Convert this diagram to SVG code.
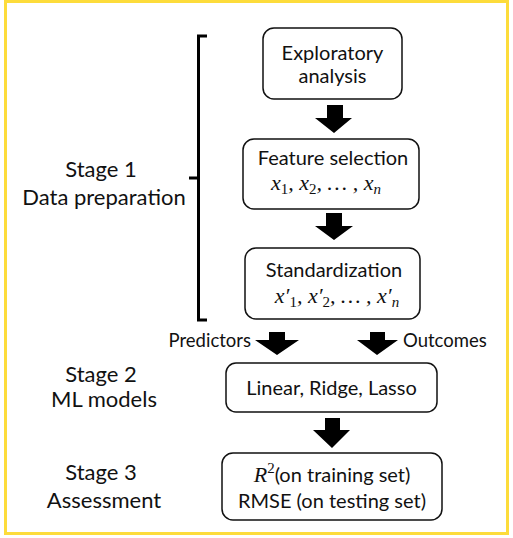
<svg xmlns="http://www.w3.org/2000/svg" width="513" height="538" viewBox="0 0 513 538">
<style>
.t{font-family:Lato,"Open Sans","Liberation Sans",sans-serif;font-size:20px;fill:#111;}
.L{font-size:22px;}
.p{font-size:18.5px;}
.m{font-family:"Liberation Serif","DejaVu Serif",serif;font-style:italic;font-size:22px;fill:#111;}
.s{font-size:15px;font-style:normal;}
.box{fill:#fff;stroke:#111;stroke-width:1.5;}
.arr{fill:#000;}
.br{fill:none;stroke:#000;stroke-width:3;}
</style>
<rect x="0" y="0" width="513" height="538" fill="#fff"/>
<rect x="5.5" y="1.5" width="502" height="532" fill="none" stroke="#FDDC3B" stroke-width="3"/>

<g id="labels">
<text class="t L" x="101" y="177" text-anchor="middle">Stage 1</text>
<text class="t L" x="104" y="205" text-anchor="middle">Data preparation</text>
<text class="t L" x="101" y="382" text-anchor="middle">Stage 2</text>
<text class="t L" x="104" y="407" text-anchor="middle">ML models</text>
<text class="t L" x="101" y="480" text-anchor="middle">Stage 3</text>
<text class="t L" x="104" y="508" text-anchor="middle">Assessment</text>
</g>

<g id="bracket">
<path class="br" d="M207,36 H198.5 V320 H207 M198.5,178 H189"/>
</g>

<g id="node-exploratory">
<rect class="box" x="263" y="28" width="139" height="71" rx="11"/>
<text class="t" x="332.5" y="60" text-anchor="middle">Exploratory</text>
<text class="t" x="332.5" y="83" text-anchor="middle">analysis</text>
</g>

<g id="node-feature">
<rect class="box" x="243" y="139" width="176" height="70" rx="11"/>
<text class="t" x="333" y="165" text-anchor="middle">Feature selection</text>
<text class="m" x="326" y="190" text-anchor="middle">x<tspan class="s" dy="4">1</tspan><tspan dy="-4">, x</tspan><tspan class="s" dy="4">2</tspan><tspan dy="-4">, … , x</tspan><tspan class="s" style="font-style:italic" dy="4">n</tspan></text>
</g>

<g id="node-standard">
<rect class="box" x="245" y="248" width="175" height="71" rx="11"/>
<text class="t" x="334" y="277" text-anchor="middle">Standardization</text>
<text class="m" x="337" y="303" text-anchor="middle">x′<tspan class="s" dy="4">1</tspan><tspan dy="-4">, x′</tspan><tspan class="s" dy="4">2</tspan><tspan dy="-4">, … , x′</tspan><tspan class="s" style="font-style:italic" dy="4">n</tspan></text>
</g>

<g id="node-models">
<rect class="box" x="226" y="363" width="211" height="49" rx="10"/>
<text class="t" x="331.5" y="395" text-anchor="middle">Linear, Ridge, Lasso</text>
</g>

<g id="node-assessment">
<rect class="box" x="222" y="453" width="220" height="67" rx="11"/>
<text x="332" y="482" text-anchor="middle"><tspan class="m">R</tspan><tspan class="m s" dy="-9">2</tspan><tspan class="t" dy="9">(on training set)</tspan></text>
<text class="t" x="332" y="508" text-anchor="middle">RMSE (on testing set)</text>
</g>

<g id="connectors">
<path class="arr" d="M327,105 H343 V118 H352 L334,133 L315,118 H327 Z"/>
<path class="arr" d="M326,213 H342 V226 H353 L334,240 L315,226 H326 Z"/>
<path class="arr" d="M269,332 H285 V340 H299 L277,355 L255,340 H269 Z"/>
<text class="t p" x="251" y="347" text-anchor="end">Predictors</text>
<path class="arr" d="M370,332 H385 V340 H398 L377,355 L357,340 H370 Z"/>
<text class="t p" x="403" y="347">Outcomes</text>
<path class="arr" d="M325,418 H340 V430 H350 L332,448 L313,430 H325 Z"/>
</g>
</svg>
